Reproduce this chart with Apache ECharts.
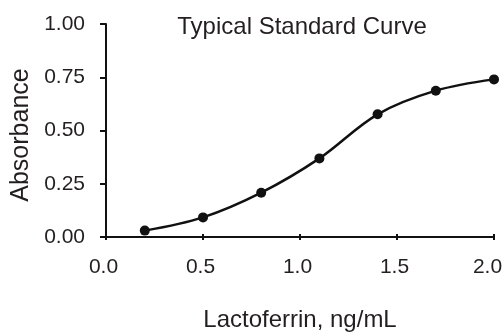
<!DOCTYPE html>
<html><head><meta charset="utf-8">
<script src="https://cdn.jsdelivr.net/npm/echarts@6/dist/echarts.min.js"></script>
<style>html,body{margin:0;padding:0;background:#fff}#c{width:503px;height:335px}</style>
</head><body><div id="c"></div>
<script>
const concentrations = [0.2, 0.5, 0.8, 1.1, 1.4, 1.7, 2.0];
const absorbance = [0.03, 0.092, 0.208, 0.369, 0.576, 0.687, 0.740];
const xTicks = [0.0, 0.5, 1.0, 1.5, 2.0];
const yTicks = [0.00, 0.25, 0.50, 0.75, 1.00];

const FONT = 'Liberation Sans';
const TXT = '#231f20';
const lbl = {fontFamily: FONT, fontSize: 21, color: TXT};
const chart = echarts.init(document.getElementById('c'));
chart.setOption({
  animation: false,
  backgroundColor: '#fff',
  title: {
    text: 'Typical Standard Curve', left: 297, top: 10, textAlign: 'center',
    textStyle: {fontFamily: FONT, fontSize: 24, fontWeight: 'normal', color: TXT}
  },
  grid: {left: 106, right: 9, top: 24, bottom: 98, outerBoundsMode: 'none', containLabel: false},
  xAxis: [{
    type: 'value', min: xTicks[0], max: xTicks[xTicks.length-1], interval: 0.5,
    name: 'Lactoferrin, ng/mL', nameLocation: 'middle', nameGap: 71,
    nameTextStyle: {fontFamily: FONT, fontSize: 24, color: TXT},
    axisLine: {show: true, lineStyle: {color: '#111', width: 2}},
    axisTick: {show: true, inside: false, length: 3, lineStyle: {color: '#111', width: 2}},
    axisLabel: {
      fontFamily: FONT, fontSize: 21, color: TXT, margin: 20,
      formatter: v => (v === xTicks[xTicks.length-1] ? '{e|' : '{n|') + v.toFixed(1) + '}',
      rich: {
        n: Object.assign({padding: [0, 5, 0, 0]}, lbl),
        e: Object.assign({padding: [0, 13, 0, 0]}, lbl)
      }
    },
    splitLine: {show: false}
  }, {
    type: 'value', min: xTicks[0], max: xTicks[xTicks.length-1], interval: 0.5, position: 'bottom',
    axisLine: {show: false},
    axisTick: {show: true, inside: true, length: 3, lineStyle: {color: '#111', width: 2}},
    axisLabel: {show: false}, splitLine: {show: false}
  }],
  yAxis: {
    type: 'value', min: yTicks[0], max: yTicks[yTicks.length-1], interval: 0.25,
    name: 'Absorbance', nameLocation: 'middle', nameGap: 69,
    nameTextStyle: {fontFamily: FONT, fontSize: 25, color: TXT, padding: [0, 9, 0, 0]},
    axisLine: {show: true, lineStyle: {color: '#111', width: 2}},
    axisTick: {show: true, length: 6, lineStyle: {color: '#111', width: 2}},
    axisLabel: {fontFamily: FONT, fontSize: 21, color: TXT, margin: 21, formatter: v => v.toFixed(2)},
    splitLine: {show: false}
  },
  series: [{
    type: 'line', xAxisIndex: 0,
    data: concentrations.map((x, i) => [x, absorbance[i]]),
    smooth: 0.35, symbol: 'circle', symbolSize: 10,
    lineStyle: {color: '#111', width: 2.5},
    itemStyle: {color: '#111'}
  }]
});
</script></body></html>
